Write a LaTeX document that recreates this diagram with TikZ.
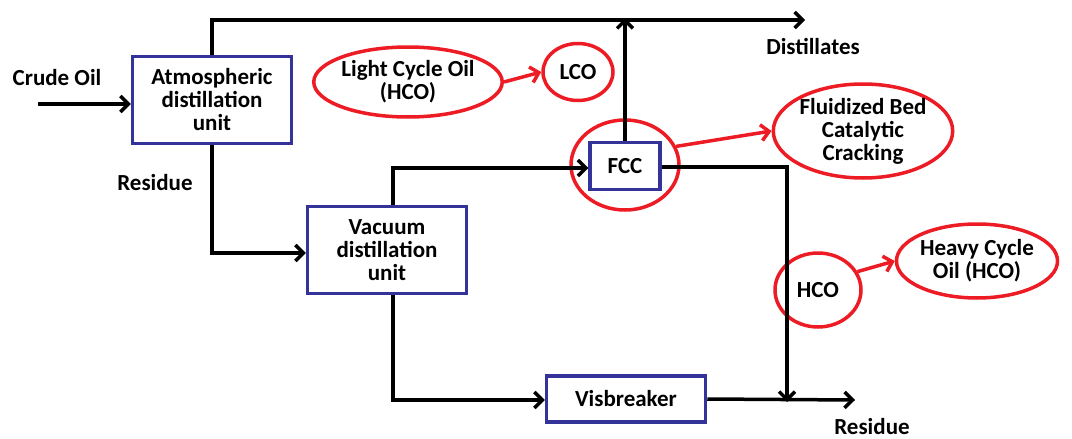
\documentclass[tikz,border=0pt]{standalone}
\usepackage{fontspec}
\setmainfont{Carlito}
\usetikzlibrary{arrows.meta,shapes.geometric}
\definecolor{boxblue}{RGB}{51,51,153}
\definecolor{ovalred}{RGB}{237,28,36}
\begin{document}
\begin{tikzpicture}[x=1pt,y=-1pt,
  every node/.style={font=\fontsize{23}{23}\selectfont\bfseries, align=center, inner sep=0pt},
  unitbox/.style={draw=boxblue, line width=3.5pt, fill=white, rectangle},
  redell/.style={draw=ovalred, ellipse, line width=3.5pt},
  flow/.style={line width=3.5pt, -{Straight Barb[length=8pt,width=16pt]}},
  redflow/.style={draw=ovalred, line width=3.5pt, -{Straight Barb[length=8pt,width=16pt]}}
]
\useasboundingbox (0,0) rectangle (1072,439);

% boxes
\node[unitbox, minimum width=159pt, minimum height=87pt] (atm) at (212,100) {Atmospheric\\distillation\\unit};
\node[unitbox, minimum width=159pt, minimum height=87pt] (vac) at (387,250) {Vacuum\\distillation\\unit};
\node[unitbox, minimum width=70pt, minimum height=47pt] (fcc) at (625,166) {FCC};
\node[unitbox, minimum width=159pt, minimum height=46pt] (vis) at (626,399) {Visbreaker};

% red ellipses
\node[redell, minimum width=108pt, minimum height=90pt] (fccring) at (625,165) {};
\node[redell, minimum width=164pt, minimum height=70pt] (lconame) at (408,82) {Light Cycle Oil\\(HCO)};
\node[redell, minimum width=70pt, minimum height=57pt] (lco) at (578,72) {LCO};
\node[redell, minimum width=172pt, minimum height=94pt] (fbcc) at (863,131) {Fluidized Bed\\Catalytic\\Cracking};
\node[redell, minimum width=86pt, minimum height=74pt] (hco) at (818,290) {HCO};
\node[redell, minimum width=148pt, minimum height=74pt] (hconame) at (977,261) {Heavy Cycle\\Oil (HCO)};

% labels
\node (crude) at (57,78) {Crude Oil};
\node (dist) at (813,46) {Distillates};
\node (res1) at (155,183) {Residue};
\node (res2) at (872,427) {Residue};

% coordinates
\coordinate (cin) at (38,104);
\coordinate (topL) at (212,20);
\coordinate (topR) at (805,20);
\coordinate (fcctop) at (625,20);
\coordinate (resturn) at (212,253);
\coordinate (vacup) at (393,168);
\coordinate (fccR) at (787,167);
\coordinate (join) at (787,400);
\coordinate (resend) at (855,400);
\coordinate (vacdown) at (393,400);

% black flows
\draw[flow] (cin) -- (cin -| atm.west);
\draw[flow] (atm.north) -- (topL) -- (topR);
\draw[flow] (fcc.north) -- ([yshift=2pt]fcctop);
\draw[flow] (atm.south) -- (resturn) -- (resturn -| vac.west);
\draw[flow] (vac.north -| vacup) -- (vacup) -- (vacup -| fcc.west);
\draw[flow] (fccR -| fcc.east) -- (fccR) -- ([yshift=-2pt]join);
\draw[flow] (vac.south -| vacdown) -- (vacdown) -- (vacdown -| vis.west);
\draw[flow] (vis.east) -- (resend);

% red arrows
\draw[redflow] (lconame.east) -- (lco.west);
\draw[redflow] (fccring.20) -- (fbcc.west);
\draw[redflow] (hco.25) -- (hconame.west);
\end{tikzpicture}
\end{document}
